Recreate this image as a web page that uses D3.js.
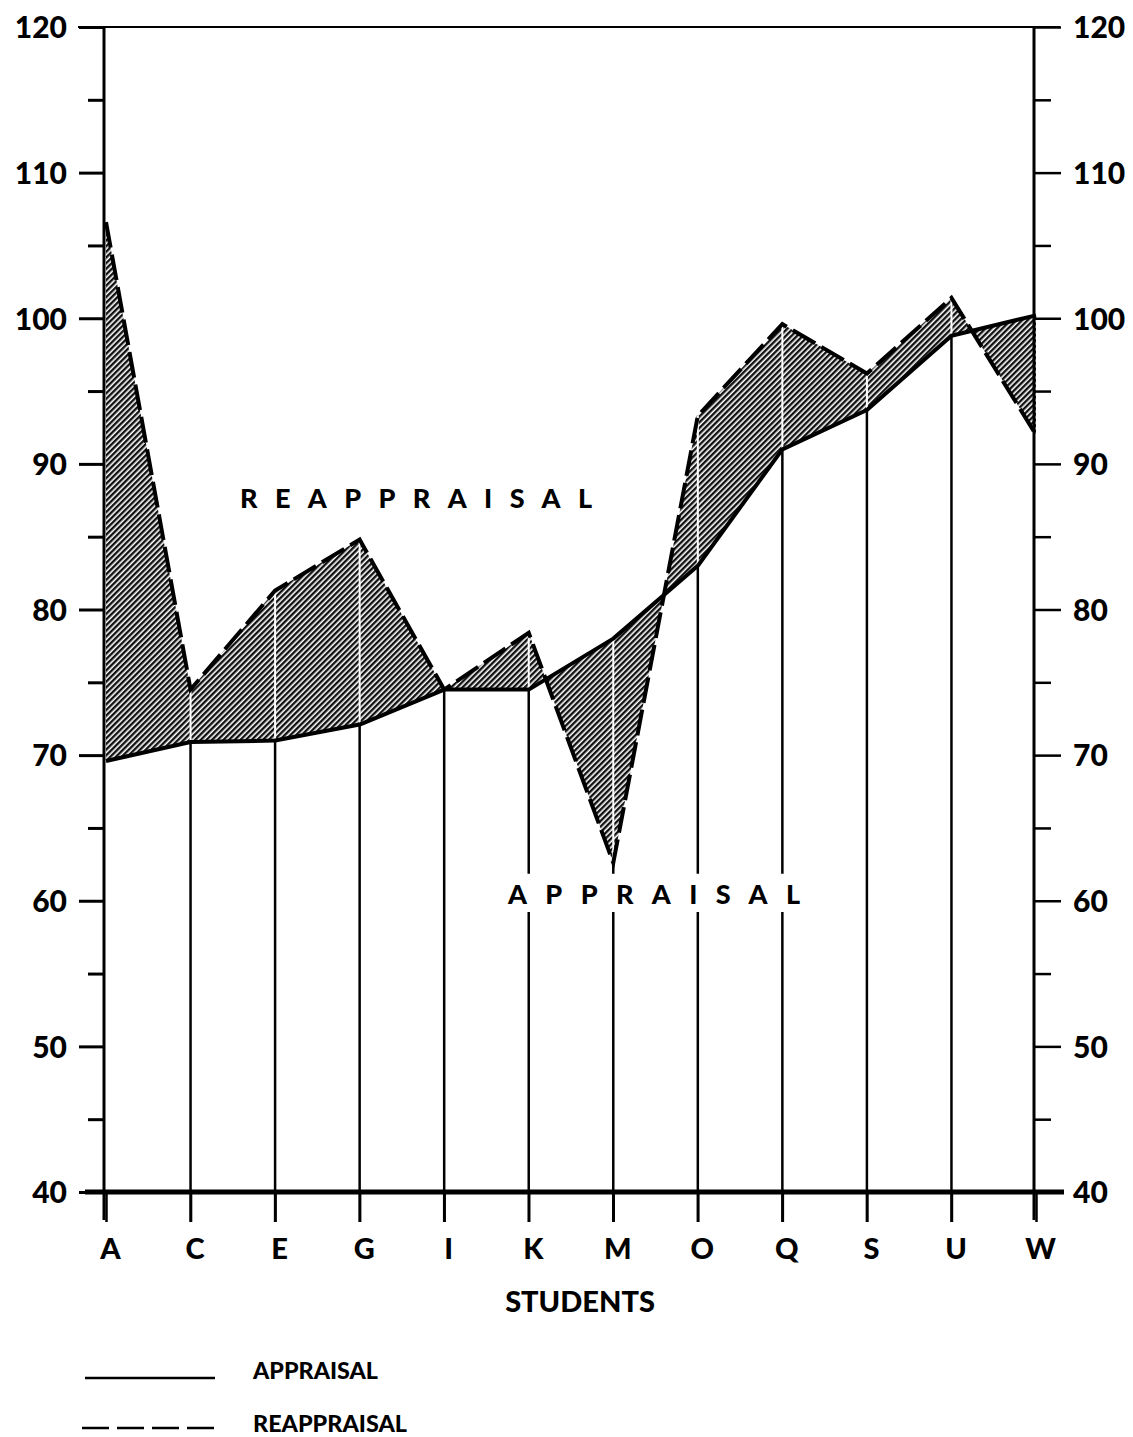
<!DOCTYPE html>
<html>
<head>
<meta charset="utf-8">
<script src="https://cdn.jsdelivr.net/npm/d3@7"></script>
<style>
  body { margin: 0; background: #fff; }
  text { font-family: Lato, "DejaVu Sans", sans-serif; font-weight: 900; fill: #000; }
</style>
</head>
<body>
<div id="chart"></div>
<script>
const students = ["A", "C", "E", "G", "I", "K", "M", "O", "Q", "S", "U", "W"];
const appraisal = [69.6, 70.9, 71.0, 72.1, 74.5, 74.5, 78.0, 83.0, 91.0, 93.7, 98.8, 100.2];
const reappraisal = [106.6, 74.5, 81.3, 84.8, 74.5, 78.4, 62.6, 93.3, 99.6, 96.2, 101.4, 92.0];
const yTicks = [40, 45, 50, 55, 60, 65, 70, 75, 80, 85, 90, 95, 100, 105, 110, 115, 120];

const width = 1133,
  height = 1437;
const plot = { left: 104, right: 1034, top: 27, bottom: 1192 };

const svg = d3
  .select("#chart")
  .append("svg")
  .attr("width", width)
  .attr("height", height);

const x = d3.scalePoint().domain(students).range([plot.left + 2, plot.right + 2]);
const y = d3.scaleLinear().domain([40, 120]).range([plot.bottom, plot.top]);

const data = students.map((s, i) => ({ s: s, a: appraisal[i], r: reappraisal[i] }));

// hatch pattern
const pattern = svg
  .append("defs")
  .append("pattern")
  .attr("id", "hatch")
  .attr("patternUnits", "userSpaceOnUse")
  .attr("width", 4)
  .attr("height", 4)
  .attr("patternTransform", "rotate(45)");
pattern.append("rect").attr("width", 4).attr("height", 4).attr("fill", "#fff");
pattern.append("rect").attr("width", 2.4).attr("height", 4).attr("fill", "#111");

// vertical lines from the base up to the higher value
svg
  .selectAll("line.stem")
  .data(data.slice(1, -1))
  .join("line")
  .attr("class", "stem")
  .attr("x1", (d) => x(d.s))
  .attr("x2", (d) => x(d.s))
  .attr("y1", plot.bottom + 30)
  .attr("y2", (d) => y(Math.max(d.a, d.r)))
  .attr("stroke", "#000")
  .attr("stroke-width", 2.5);

// shaded area between the two series
svg
  .append("path")
  .datum(data)
  .attr("fill", "url(#hatch)")
  .attr(
    "d",
    d3
      .area()
      .x((d) => x(d.s))
      .y0((d) => y(d.a))
      .y1((d) => y(d.r))
  );

// white stems inside the shading
svg
  .selectAll("line.white")
  .data(data.slice(1, -1))
  .join("line")
  .attr("class", "white")
  .attr("x1", (d) => x(d.s))
  .attr("x2", (d) => x(d.s))
  .attr("y1", (d) => y(d.a))
  .attr("y2", (d) => y(d.r))
  .attr("stroke", "#fff")
  .attr("stroke-width", 2);

// frame: top line, bottom line, axis lines
svg
  .append("line")
  .attr("x1", 78)
  .attr("x2", 1060)
  .attr("y1", y(120))
  .attr("y2", y(120))
  .attr("stroke", "#000")
  .attr("stroke-width", 2);

svg
  .append("line")
  .attr("x1", 85)
  .attr("x2", 1064)
  .attr("y1", y(40))
  .attr("y2", y(40))
  .attr("stroke", "#000")
  .attr("stroke-width", 5);

[plot.left, plot.right].forEach((px) => {
  svg
    .append("line")
    .attr("x1", px)
    .attr("x2", px)
    .attr("y1", plot.top)
    .attr("y2", plot.bottom + 28)
    .attr("stroke", "#000")
    .attr("stroke-width", 3);
});

// left axis
const leftAxis = svg
  .append("g")
  .attr("transform", `translate(${plot.left},0)`)
  .call(
    d3
      .axisLeft(y)
      .tickValues(yTicks)
      .tickSize(25)
      .tickPadding(12)
      .tickFormat((d) => (d % 10 === 0 ? d : ""))
  );
leftAxis.select(".domain").remove();
leftAxis.selectAll(".tick line").attr("stroke-width", 3).filter((d) => d % 10 !== 0).attr("x2", -16);
leftAxis.selectAll(".tick text").style("font-size", "30px").attr("font-family", null).attr("dy", "0.36em");

// right axis
const rightAxis = svg
  .append("g")
  .attr("transform", `translate(${plot.right},0)`)
  .call(
    d3
      .axisRight(y)
      .tickValues(yTicks)
      .tickSize(27)
      .tickPadding(12)
      .tickFormat((d) => (d % 10 === 0 ? d : ""))
  );
rightAxis.select(".domain").remove();
rightAxis.selectAll(".tick line").attr("stroke-width", 2.5).filter((d) => d % 10 !== 0).attr("x2", 17);
rightAxis.selectAll(".tick text").style("font-size", "30px").attr("font-family", null).attr("dy", "0.36em");

// bottom axis
const bottomAxis = svg
  .append("g")
  .attr("transform", `translate(0,${plot.bottom})`)
  .call(d3.axisBottom(x).tickSize(30).tickPadding(16));
bottomAxis.select(".domain").remove();
bottomAxis.selectAll(".tick line").attr("stroke-width", 2.5);
bottomAxis.selectAll(".tick text").style("font-size", "29px").attr("font-family", null).attr("dx", "4");

// series lines
svg
  .append("path")
  .datum(data)
  .attr("fill", "none")
  .attr("stroke", "#000")
  .attr("stroke-width", 4)
  .attr("stroke-linejoin", "round")
  .attr(
    "d",
    d3
      .line()
      .x((d) => x(d.s))
      .y((d) => y(d.a))
  );

svg
  .append("path")
  .datum(data)
  .attr("fill", "none")
  .attr("stroke", "#000")
  .attr("stroke-width", 4)
  .attr("stroke-dasharray", "26,7")
  .attr(
    "d",
    d3
      .line()
      .x((d) => x(d.s))
      .y((d) => y(d.r))
  );

// labels
svg
  .append("text")
  .attr("x", 240)
  .attr("y", 508)
  .attr("textLength", 352)
  .attr("lengthAdjust", "spacing")
  .style("font-size", "27px")
  .text("REAPPRAISAL");

// white band behind the label, the stems break there
const lab = { x: 508, y: 904, w: 292, size: 27 };
svg
  .append("rect")
  .attr("x", lab.x - 6)
  .attr("y", lab.y - lab.size * 0.75 - 10)
  .attr("width", lab.w + 12)
  .attr("height", lab.size * 0.75 + 18)
  .attr("fill", "#fff");
svg
  .append("text")
  .attr("x", lab.x)
  .attr("y", lab.y)
  .attr("textLength", lab.w)
  .attr("lengthAdjust", "spacing")
  .style("font-size", lab.size + "px")
  .text("APPRAISAL");

svg
  .append("text")
  .attr("x", 580)
  .attr("y", 1312)
  .attr("text-anchor", "middle")
  .style("font-size", "29px")
  .text("STUDENTS");

// legend
svg
  .append("line")
  .attr("x1", 85)
  .attr("x2", 215)
  .attr("y1", 1378)
  .attr("y2", 1378)
  .attr("stroke", "#000")
  .attr("stroke-width", 2.5);

svg
  .append("line")
  .attr("x1", 82)
  .attr("x2", 215)
  .attr("y1", 1428)
  .attr("y2", 1428)
  .attr("stroke", "#000")
  .attr("stroke-width", 2.5)
  .attr("stroke-dasharray", "27,8");

svg
  .append("text")
  .attr("x", 253)
  .attr("y", 1379)
  .attr("textLength", 125)
  .attr("lengthAdjust", "spacingAndGlyphs")
  .style("font-size", "22px")
  .text("APPRAISAL");

svg
  .append("text")
  .attr("x", 253)
  .attr("y", 1432)
  .attr("textLength", 154)
  .attr("lengthAdjust", "spacingAndGlyphs")
  .style("font-size", "22px")
  .text("REAPPRAISAL");
</script>
</body>
</html>
